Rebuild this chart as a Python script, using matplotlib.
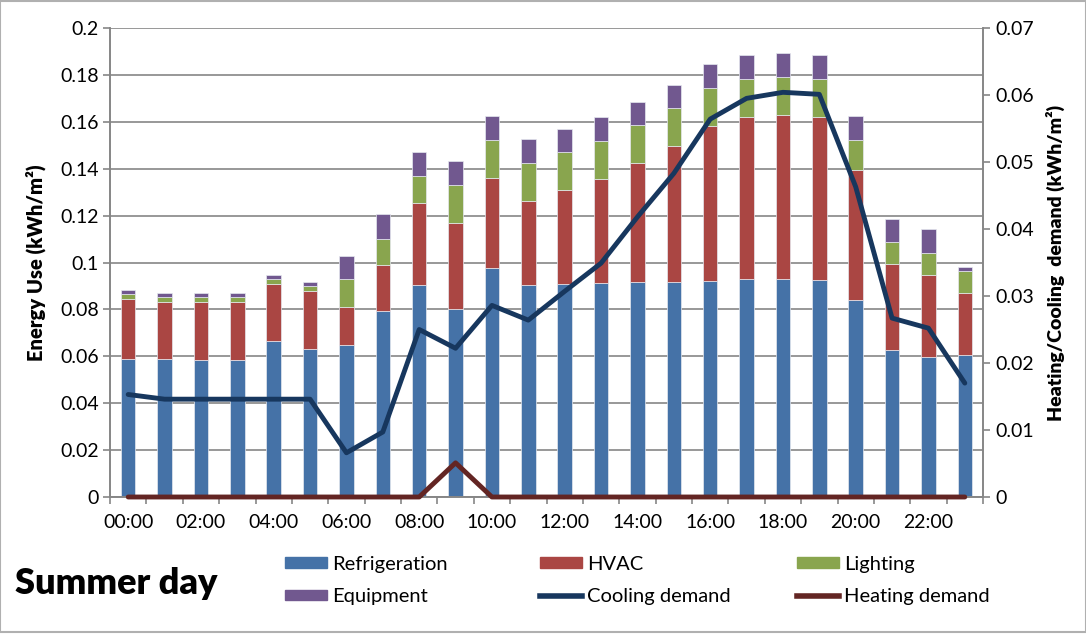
import numpy as np
import matplotlib.pyplot as plt
from matplotlib.patches import Patch, Rectangle
from matplotlib.lines import Line2D

plt.rcParams['font.family'] = ['Lato', 'DejaVu Sans']

hours = [f"{h:02d}:00" for h in range(24)]

# stacked energy use components (kWh/m2)
refrigeration = [0.059, 0.0587, 0.0583, 0.0583, 0.0664, 0.0631, 0.065, 0.0792,
                 0.0906, 0.080, 0.0975, 0.0904, 0.0908, 0.0914, 0.0917, 0.0917,
                 0.0921, 0.0928, 0.0928, 0.0924, 0.084, 0.0627, 0.0597, 0.0604]
hvac_top = [0.0843, 0.083, 0.083, 0.083, 0.0907, 0.0877, 0.0812, 0.099,
            0.1255, 0.117, 0.136, 0.1264, 0.1309, 0.1357, 0.1423, 0.1498,
            0.1583, 0.1622, 0.1628, 0.1622, 0.1396, 0.0992, 0.0948, 0.0871]
lighting_top = [0.0866, 0.0852, 0.0852, 0.0852, 0.093, 0.0901, 0.0928, 0.110,
                0.1369, 0.133, 0.1522, 0.1426, 0.147, 0.1518, 0.1586, 0.1658,
                0.1743, 0.1782, 0.179, 0.1782, 0.1522, 0.1086, 0.1041, 0.0965]
equipment_top = [0.0883, 0.087, 0.087, 0.087, 0.0948, 0.0917, 0.1028, 0.1207,
                 0.1471, 0.1432, 0.1625, 0.1528, 0.1571, 0.1619, 0.1686, 0.1759,
                 0.1846, 0.1885, 0.1892, 0.1885, 0.1625, 0.1185, 0.1142, 0.0982]

hvac = np.array(hvac_top) - np.array(refrigeration)
lighting = np.array(lighting_top) - np.array(hvac_top)
equipment = np.array(equipment_top) - np.array(lighting_top)

# heating / cooling demand (kWh/m2), right axis
cooling = [0.0153, 0.0146, 0.0146, 0.0146, 0.0146, 0.0146, 0.0066, 0.0097,
           0.0250, 0.0222, 0.0286, 0.0264, 0.0307, 0.0349, 0.0418, 0.0483,
           0.0564, 0.0595, 0.0604, 0.0601, 0.0463, 0.0267, 0.0252, 0.0170]
heating = [0, 0, 0, 0, 0, 0, 0, 0, 0, 0.0051, 0, 0, 0, 0, 0, 0,
           0, 0, 0, 0, 0, 0, 0, 0]

c_ref, c_hvac, c_light, c_equip = '#4572A7', '#AA4643', '#89A54E', '#71588F'
c_cool, c_heat = '#17375E', '#632523'
grey = '#868686'

fig = plt.figure(figsize=(10.86, 6.35), dpi=100)
ax = fig.add_axes([110 / 1086, 1 - 497 / 635, 873 / 1086, 469 / 635])
ax2 = ax.twinx()

x = np.arange(24)
w = 0.4
kw = dict(width=w, edgecolor='#e6e9f0', linewidth=0.5, zorder=2)
ax.bar(x, refrigeration, color=c_ref, **kw)
ax.bar(x, hvac, bottom=refrigeration, color=c_hvac, **kw)
ax.bar(x, lighting, bottom=hvac_top, color=c_light, **kw)
ax.bar(x, equipment, bottom=lighting_top, color=c_equip, **kw)

ax2.plot(x, heating, color=c_heat, lw=3.5, solid_capstyle='round', zorder=3,
         clip_on=False)
ax2.plot(x, cooling, color=c_cool, lw=3.5, solid_capstyle='round', zorder=4)

ax.set_xlim(-0.5, 23.5)
ax.set_ylim(0, 0.2)
ax2.set_ylim(0, 0.07)

yt = np.round(np.arange(0, 0.2001, 0.02), 2)
ax.set_yticks(yt, [f"{v:g}" for v in yt])
yt2 = np.round(np.arange(0, 0.0701, 0.01), 2)
ax2.set_yticks(yt2, [f"{v:g}" for v in yt2])
ax.yaxis.grid(True, color=grey, lw=1.2, zorder=0)
ax.set_axisbelow(True)

ax.set_xticks(x[::2], hours[::2])
ax.set_xticks(np.arange(-0.5, 24, 1), minor=True)
ax.tick_params(axis='x', which='major', length=0, pad=12, labelsize=14)
ax.tick_params(axis='x', which='minor', length=5, color=grey, width=1.2)
ax.tick_params(axis='y', length=5, color=grey, width=1.2, labelsize=14, pad=3)
ax2.tick_params(axis='y', length=5, color=grey, width=1.2, labelsize=14, pad=4)

for a in (ax, ax2):
    a.spines['top'].set_visible(False)
    for s in ('left', 'right', 'bottom'):
        a.spines[s].set_color(grey)
        a.spines[s].set_linewidth(1.2)

ax.set_ylabel('Energy Use (kWh/m²)', fontsize=14.5, fontweight='heavy', labelpad=10)
ax2.set_ylabel('Heating/Cooling  demand (kWh/m²)', fontsize=14, fontweight='heavy',
               labelpad=8)

# legend: three columns placed separately
lfont = 14.5
cols = [
    ([Patch(color=c_ref), Patch(color=c_equip)], ['Refrigeration', 'Equipment'], 285),
    ([Patch(color=c_hvac), Line2D([], [], color=c_cool, lw=4)], ['HVAC', 'Cooling demand'], 540),
    ([Patch(color=c_light), Line2D([], [], color=c_heat, lw=4)], ['Lighting', 'Heating demand'], 797),
]
for handles, labels, xpos in cols:
    fig.legend(handles, labels, loc='upper left',
               bbox_to_anchor=(xpos / 1086, 1 - 556 / 635), frameon=False,
               fontsize=lfont, handlelength=2.1, handleheight=0.45,
               handletextpad=0.25, labelspacing=0.75, borderaxespad=0,
               borderpad=0)

fig.text(15 / 1086, 1 - 583 / 635, 'Summer day', fontsize=26, fontweight='heavy',
         va='center', ha='left')

fig.patches.append(Rectangle((0, 0.004), 1, 0.995, transform=fig.transFigure,
                             fill=False, edgecolor='#b0b0b0', lw=1.5))

fig.savefig('out.png', dpi=100)
